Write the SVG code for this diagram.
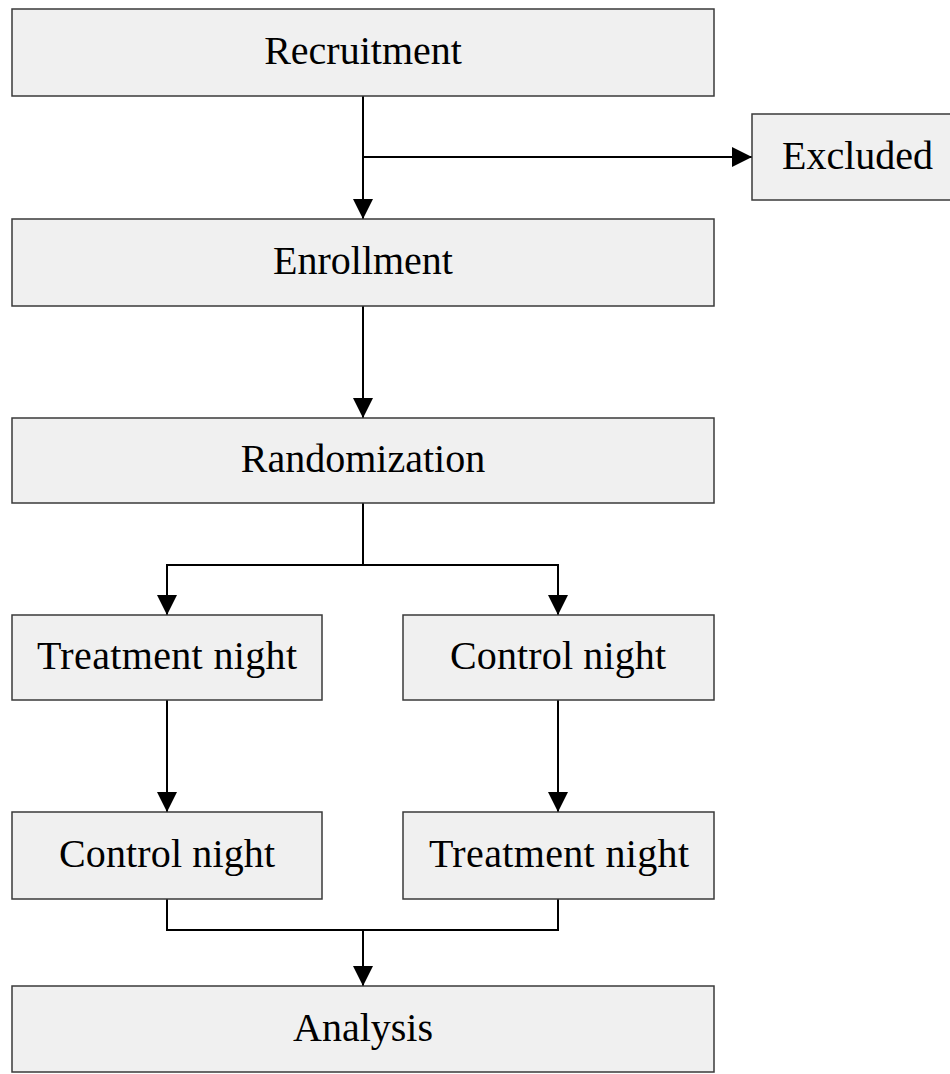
<svg xmlns="http://www.w3.org/2000/svg" width="950" height="1074" viewBox="0 0 950 1074">
<style>
.box{fill:#f0f0f0;stroke:#3a3a3a;stroke-width:1.5}
.lbl{font-family:'Liberation Serif','DejaVu Serif',serif;font-size:40px;fill:#000;text-anchor:middle}
.con{fill:none;stroke:#000;stroke-width:2}
</style>
<defs>
<marker id="ah" markerUnits="userSpaceOnUse" markerWidth="20" markerHeight="20" refX="20" refY="10" orient="auto">
<path d="M0,0 L20,10 L0,20 Z" fill="#000"/>
</marker>
</defs>
<rect width="950" height="1074" fill="#fff"/>
<g id="connectors">
<line class="con" x1="363" y1="96" x2="363" y2="219" marker-end="url(#ah)"/>
<line class="con" x1="363" y1="157" x2="752" y2="157" marker-end="url(#ah)"/>
<line class="con" x1="363" y1="306" x2="363" y2="418" marker-end="url(#ah)"/>
<polyline class="con" points="363,503 363,565"/>
<polyline class="con" points="167,565 558,565"/>
<line class="con" x1="167" y1="564" x2="167" y2="615" marker-end="url(#ah)"/>
<line class="con" x1="558" y1="564" x2="558" y2="615" marker-end="url(#ah)"/>
<line class="con" x1="167" y1="700" x2="167" y2="812" marker-end="url(#ah)"/>
<line class="con" x1="558" y1="700" x2="558" y2="812" marker-end="url(#ah)"/>
<polyline class="con" points="167,899 167,930 558,930 558,899"/>
<line class="con" x1="363" y1="930" x2="363" y2="986" marker-end="url(#ah)"/>
</g>
<g id="recruitment">
<rect class="box" x="12" y="9" width="702" height="87"/>
<text class="lbl" x="363" y="64">Recruitment</text>
</g>
<g id="excluded">
<rect class="box" x="752" y="114" width="220" height="86"/>
<text class="lbl" x="857.5" y="169">Excluded</text>
</g>
<g id="enrollment">
<rect class="box" x="12" y="219" width="702" height="87"/>
<text class="lbl" x="363" y="274">Enrollment</text>
</g>
<g id="randomization">
<rect class="box" x="12" y="418" width="702" height="85"/>
<text class="lbl" x="363" y="472">Randomization</text>
</g>
<g id="treatment1">
<rect class="box" x="12" y="615" width="310" height="85"/>
<text class="lbl" x="167" y="669" textLength="260" lengthAdjust="spacing">Treatment night</text>
</g>
<g id="control1">
<rect class="box" x="403" y="615" width="311" height="85"/>
<text class="lbl" x="558" y="669" textLength="216" lengthAdjust="spacing">Control night</text>
</g>
<g id="control2">
<rect class="box" x="12" y="812" width="310" height="87"/>
<text class="lbl" x="167" y="867" textLength="216" lengthAdjust="spacing">Control night</text>
</g>
<g id="treatment2">
<rect class="box" x="403" y="812" width="311" height="87"/>
<text class="lbl" x="559" y="867" textLength="260" lengthAdjust="spacing">Treatment night</text>
</g>
<g id="analysis">
<rect class="box" x="12" y="986" width="702" height="86"/>
<text class="lbl" x="363" y="1041">Analysis</text>
</g>
</svg>
